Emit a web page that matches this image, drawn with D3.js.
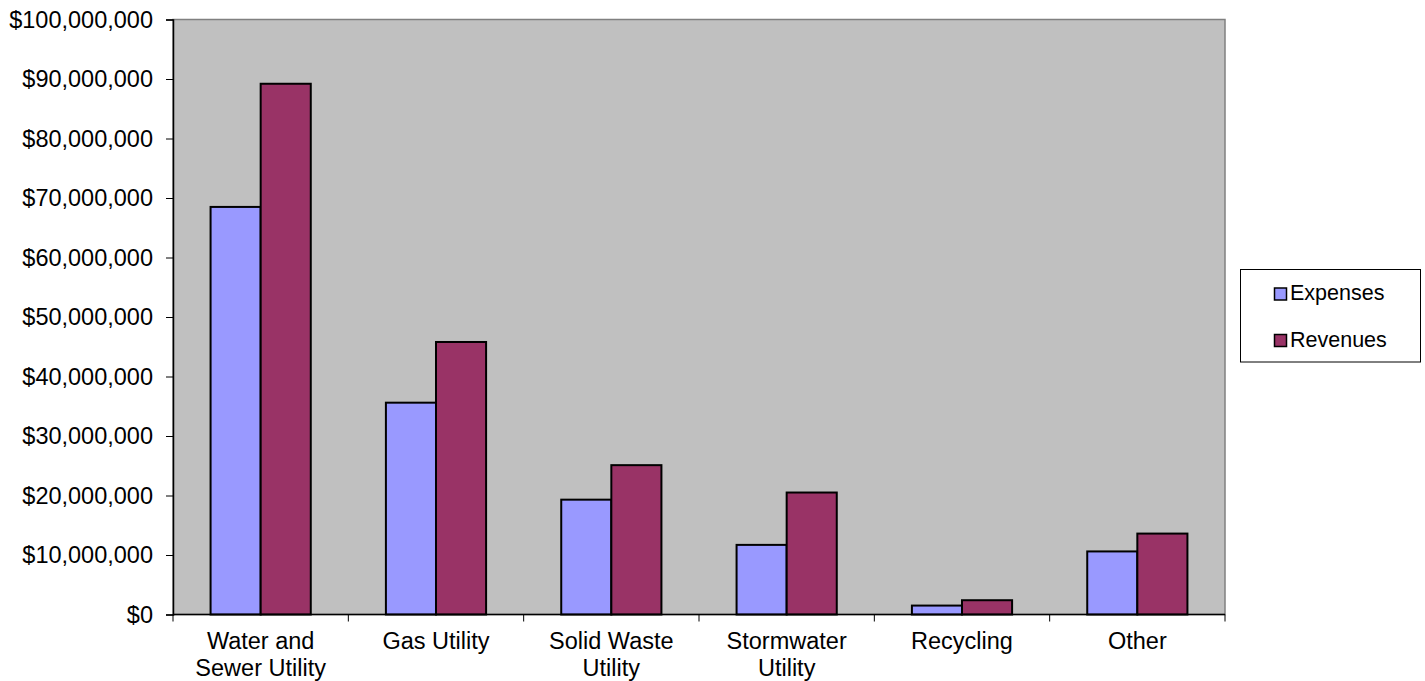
<!DOCTYPE html>
<html>
<head>
<meta charset="utf-8">
<script src="https://cdn.jsdelivr.net/npm/d3@7"></script>
<style>
  body { margin: 0; background: #fff; }
  svg { display: block; font-family: "Liberation Sans", Arial, sans-serif; }
</style>
</head>
<body>
<svg id="chart"></svg>
<script>
// data
const categories = ['Water and Sewer Utility', 'Gas Utility', 'Solid Waste Utility', 'Stormwater Utility', 'Recycling', 'Other'];
const categoryLines = [['Water and', 'Sewer Utility'], ['Gas Utility'], ['Solid Waste', 'Utility'], ['Stormwater', 'Utility'], ['Recycling'], ['Other']];
const seriesNames = ['Expenses', 'Revenues'];
const expenses = [68500000, 35600000, 19300000, 11700000, 1500000, 10600000];
const revenues = [89200000, 45800000, 25100000, 20500000, 2400000, 13600000];
const yTicks = [0, 10000000, 20000000, 30000000, 40000000, 50000000, 60000000, 70000000, 80000000, 90000000, 100000000];

const W = 1425, H = 681;
const margin = { top: 19.5, right: 200, bottom: 66.5, left: 173 };
const width = 1225 - margin.left;
const height = 614.5 - margin.top;
const colors = { Expenses: '#9999FF', Revenues: '#993366' };

const svg = d3.select('#chart').attr('width', W).attr('height', H);
const g = svg.append('g').attr('transform', `translate(${margin.left},${margin.top})`);

const x0 = d3.scaleBand().domain(categories).range([0, width]).padding(0);
const x1 = d3.scaleBand().domain(seriesNames).range([0, x0.bandwidth()]).paddingInner(0).paddingOuter(0.75);
const y = d3.scaleLinear().domain([0, 100000000]).range([height, 0]);

// plot background
g.append('rect')
  .attr('width', width).attr('height', height)
  .attr('fill', '#C0C0C0')
  .attr('stroke', '#808080').attr('stroke-width', 1.5);

// bars
const rows = categories.map((c, i) => ({ cat: c, values: [expenses[i], revenues[i]] }));
const groups = g.selectAll('g.grp')
  .data(rows)
  .enter().append('g')
  .attr('class', 'grp')
  .attr('transform', d => `translate(${x0(d.cat)},0)`);

groups.selectAll('rect')
  .data(d => d.values.map((v, j) => ({ key: seriesNames[j], value: v })))
  .enter().append('rect')
  .attr('x', d => x1(d.key))
  .attr('y', d => y(d.value))
  .attr('width', x1.bandwidth())
  .attr('height', d => height - y(d.value))
  .attr('fill', d => colors[d.key])
  .attr('stroke', '#000').attr('stroke-width', 2);

// y axis
const yAxis = g.append('g')
  .call(d3.axisLeft(y).tickValues(yTicks).tickSize(7).tickPadding(13)
    .tickFormat(d => '$' + d3.format(',')(d)));
yAxis.select('.domain').attr('stroke', '#000').attr('stroke-width', 1.5);
yAxis.selectAll('.tick line').attr('stroke', '#000');
yAxis.selectAll('text').attr('font-size', 23.5).attr('fill', '#000')
  .attr('font-family', '"Liberation Sans", Arial, sans-serif');

// x axis: ticks on category boundaries, labels centred
const xAxis = g.append('g').attr('transform', `translate(0,${height})`);
xAxis.append('line')
  .attr('x1', 0).attr('x2', width)
  .attr('stroke', '#000').attr('stroke-width', 1.5);
const bounds = categories.map(c => x0(c)).concat([x0.range()[1]]);
xAxis.selectAll('line.tick')
  .data(bounds)
  .enter().append('line')
  .attr('class', 'tick')
  .attr('x1', d => d).attr('x2', d => d)
  .attr('y1', 0).attr('y2', 7)
  .attr('stroke', '#000');

xAxis.selectAll('text.lbl')
  .data(categories)
  .enter().append('text')
  .attr('class', 'lbl')
  .attr('x', d => x0(d) + x0.bandwidth() / 2)
  .attr('text-anchor', 'middle')
  .attr('font-size', 23.5)
  .attr('fill', '#000')
  .each(function(d, i) {
    d3.select(this).selectAll('tspan')
      .data(categoryLines[i])
      .enter().append('tspan')
      .attr('x', x0(d) + x0.bandwidth() / 2)
      .attr('y', (t, k) => 34 + k * 27)
      .text(t => t);
  });

// legend
const legend = svg.append('g').attr('transform', 'translate(1240.5,269.5)');
legend.append('rect')
  .attr('width', 180).attr('height', 92.5)
  .attr('fill', '#fff').attr('stroke', '#000').attr('stroke-width', 1);
seriesNames.forEach((s, i) => {
  const row = legend.append('g').attr('transform', `translate(34,${18.5 + i * 46.5})`);
  row.append('rect')
    .attr('width', 12).attr('height', 12)
    .attr('fill', colors[s]).attr('stroke', '#000').attr('stroke-width', 1.5);
  row.append('text')
    .attr('x', 15.5).attr('y', 12)
    .attr('font-size', 21.5)
    .attr('fill', '#000')
    .text(s);
});
</script>
</body>
</html>
